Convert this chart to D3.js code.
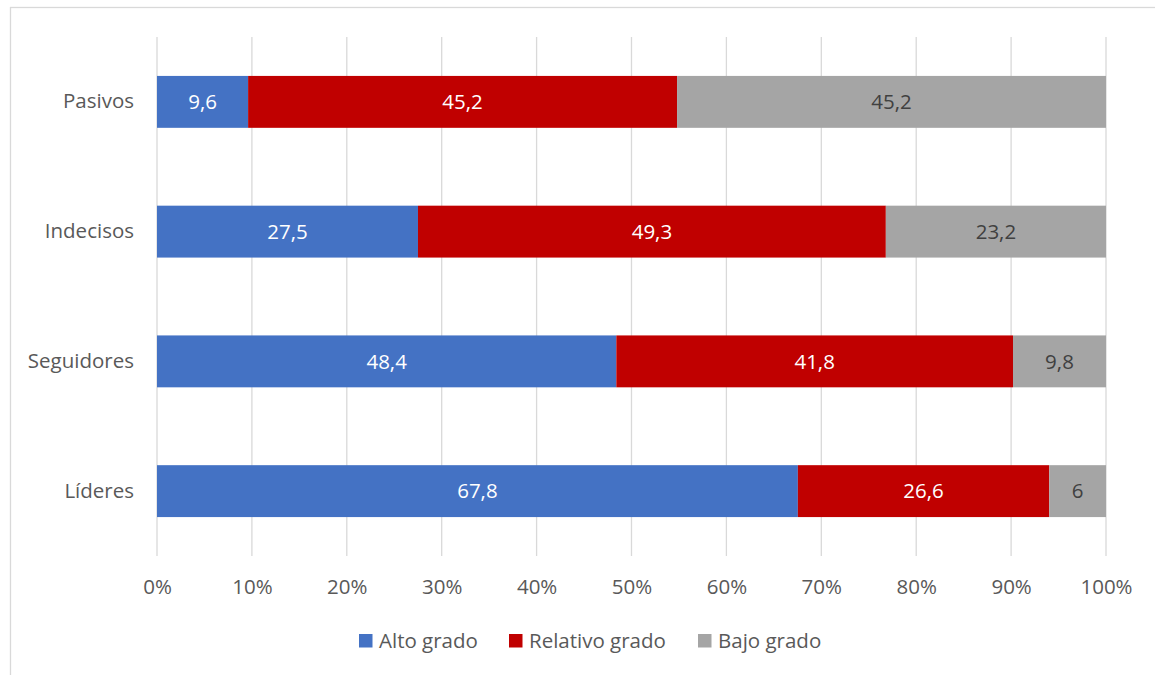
<!DOCTYPE html>
<html><head><meta charset="utf-8">
<script src="https://cdn.jsdelivr.net/npm/d3@7"></script>
<style>body{margin:0;background:#fff}svg{display:block}text{font-family:"Open Sans",sans-serif}</style>
</head><body>
<svg id="c" width="1155" height="675"></svg>
<script>
const categories = ["Pasivos","Indecisos","Seguidores","Líderes"];
const seriesNames = ["Alto grado","Relativo grado","Bajo grado"];
const alto = [9.6, 27.5, 48.4, 67.8];
const relativo = [45.2, 49.3, 41.8, 26.6];
const bajo = [45.2, 23.2, 9.8, 6];
const tickValues = [0,0.1,0.2,0.3,0.4,0.5,0.6,0.7,0.8,0.9,1];
const colors = ["#4472C4","#C00000","#A5A5A5"];
const labelColors = ["#ffffff","#ffffff","#404040"];
const FONT = "'Open Sans',sans-serif";
const FS = 20.5;

const svg = d3.select("#c");
svg.append("rect").attr("x",10.5).attr("y",7.5).attr("width",1160).attr("height",700)
  .attr("fill","none").attr("stroke","#D9D9D9").attr("stroke-width",1.3);

const x = d3.scaleLinear().domain([0,1]).range([157,1106]);
const y = d3.scaleBand().domain(categories).range([37,556]).paddingInner(0.6).paddingOuter(0.3);

// gridlines
svg.append("g").selectAll("line").data(tickValues).join("line")
  .attr("x1",d=>x(d)).attr("x2",d=>x(d)).attr("y1",37).attr("y2",556)
  .attr("stroke","#D9D9D9").attr("stroke-width",1.3);

const rows = categories.map((c,i)=>({cat:c, vals:[alto[i],relativo[i],bajo[i]]}));
const stackData = rows.map(r=>{
  const tot = d3.sum(r.vals); let acc=0;
  return r.vals.map((v,k)=>{const s={cat:r.cat,k,v,x0:acc/tot,x1:(acc+v)/tot}; acc+=v; return s;});
}).flat();

svg.append("g").selectAll("rect").data(stackData).join("rect")
  .attr("x",d=>x(d.x0)).attr("width",d=>x(d.x1)-x(d.x0))
  .attr("y",d=>y(d.cat)).attr("height",y.bandwidth())
  .attr("fill",d=>colors[d.k]);

svg.append("g").selectAll("text").data(stackData).join("text")
  .attr("x",d=>(x(d.x0)+x(d.x1))/2).attr("y",d=>y(d.cat)+y.bandwidth()/2)
  .attr("dy","0.35em").attr("text-anchor","middle")
  .attr("font-size",FS).attr("fill",d=>labelColors[d.k])
  .text(d=>String(d.v).replace(".",","));

// category axis labels
const ya = d3.axisLeft(y).tickSize(0).tickPadding(23);
const gy = svg.append("g").attr("transform","translate(157,0)").call(ya);
gy.select(".domain").remove();
gy.selectAll("text").attr("font-size",FS).attr("fill","#595959").style("font-family",FONT);

// x axis labels
const xa = d3.axisBottom(x).tickValues(tickValues).tickSize(0).tickPadding(0).tickFormat(d3.format(".0%"));
const gx = svg.append("g").attr("transform","translate(0,579)").call(xa);
gx.select(".domain").remove();
gx.selectAll("text").attr("font-size",FS).attr("fill","#595959").style("font-family",FONT);

// legend
const legX = [359, 509, 698];
const leg = svg.append("g").selectAll("g").data(seriesNames).join("g")
  .attr("transform",(d,i)=>`translate(${legX[i]},634)`);
leg.append("rect").attr("width",13.5).attr("height",13.5).attr("fill",(d,i)=>colors[i]);
leg.append("text").attr("x",20).attr("y",7).attr("dy","0.35em").attr("font-size",FS)
  .attr("fill","#595959").text(d=>d);
</script>
</body></html>
